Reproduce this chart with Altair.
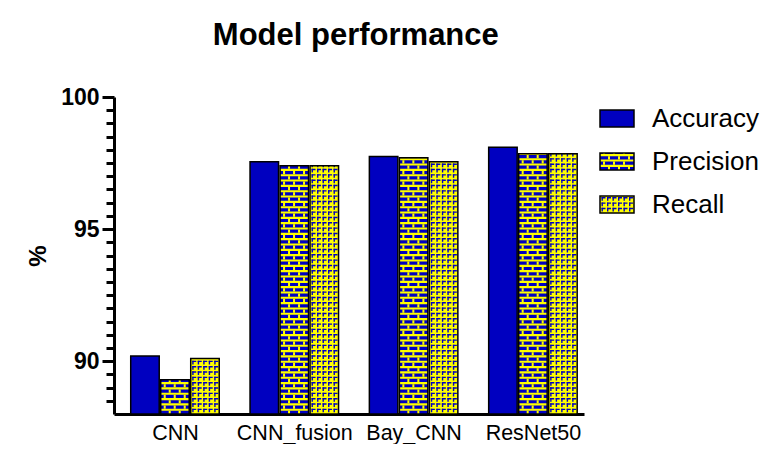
import json
import altair as alt
import pandas as pd

# ---------------- data ----------------
models = ["CNN", "CNN_fusion", "Bay_CNN", "ResNet50"]
metrics = ["Accuracy", "Precision", "Recall"]
accuracy = [90.2, 97.55, 97.75, 98.1]
precision = [89.3, 97.4, 97.7, 97.85]
recall = [90.1, 97.4, 97.55, 97.85]
y_min, y_max = 88, 100
y_tick_values = [88.5 + 0.5 * k for k in range(24)]  # minor every 0.5, labelled every 5

# ---------------- style ----------------
BLUE = "#0000C0"
YELLOW = "#FFFF00"
FONT = "Liberation Sans"

series = {"Accuracy": accuracy, "Precision": precision, "Recall": recall}
df = pd.DataFrame([
    {"model": mod, "g": g, "metric": met, "m": m, "value": series[met][g]}
    for g, mod in enumerate(models) for m, met in enumerate(metrics)
])
legend_df = pd.DataFrame({"metric": metrics, "i": list(range(len(metrics)))})

W, H = 470, 317
X_DOM = [-0.511, 3.428]
PXU = (X_DOM[1] - X_DOM[0]) / W
BAR_PX = 28.5
STEP_PX = 30.0

LW, LH = 165, 129
SYM_PX = 34.0
LX_DOM = [0, LW / SYM_PX]
LPXU = (LX_DOM[1] - LX_DOM[0]) / LW

P = 5.33  # pattern row period in px

fill_scale = alt.Scale(domain=metrics, range=[BLUE, YELLOW, YELLOW])


def pattern_layers(base, xs, ys, pxu, width_px, xa, ya):
    def X(f):
        return alt.X(f"{f}:Q", scale=xs, axis=xa)

    def Y(f):
        return alt.Y(f"{f}:Q", scale=ys, axis=ya)

    layers = []
    prec = base.transform_filter("datum.metric === 'Precision'")
    rec = base.transform_filter("datum.metric === 'Recall'")
    # brick rows (blue bands)
    layers.append(prec.mark_rule(color=BLUE, strokeWidth=width_px, strokeDash=[3.2, P - 3.2]).encode(
        x=X("xc"), y=Y("y_lo"), y2="y_hi:Q"))
    # vertical mortar, staggered rows
    cols_a = [c + 0.0 for c in range(9, int(width_px), 10) if c < width_px - 2]
    cols_b = [c + 0.0 for c in range(4, int(width_px), 10) if c < width_px - 2]
    for cols, off in ((cols_a, 0), (cols_b, P)):
        layers.append(
            prec.transform_calculate(col=json.dumps(cols))
            .transform_flatten(["col"])
            .transform_calculate(xm=f"datum.xl + datum.col * {pxu}")
            .mark_rule(color=YELLOW, strokeWidth=2, strokeDash=[3.2, 2 * P - 3.2], strokeDashOffset=off)
            .encode(x=X("xm"), y=Y("y_lo"), y2="y_hi:Q")
        )
    # recall "Γ" marks
    lefts = []
    k = 0
    while 1.5 + k * 5.5 + 4 <= width_px - 0.5:
        lefts.append(1.5 + k * 5.5)
        k += 1
    rc = rec.transform_calculate(col=json.dumps(lefts)).transform_flatten(["col"])
    layers.append(
        rc.transform_calculate(xm=f"datum.xl + (datum.col + 2) * {pxu}")
        .mark_rule(color=BLUE, strokeWidth=4, strokeDash=[1.4, P - 1.4], strokeDashOffset=1.4)
        .encode(x=X("xm"), y=Y("y_lo"), y2="y_hi:Q")
    )
    layers.append(
        rc.transform_calculate(xm=f"datum.xl + (datum.col + 0.7) * {pxu}")
        .mark_rule(color=BLUE, strokeWidth=1.4, strokeDash=[3.7, P - 3.7], strokeDashOffset=3.7)
        .encode(x=X("xm"), y=Y("y_lo"), y2="y_hi:Q")
    )
    # outline
    layers.append(
        base.mark_bar(fillOpacity=0, stroke="black", strokeWidth=1.5).encode(
            x=X("xl"), x2="xr:Q", y=Y("y_hi"), y2="y_lo:Q")
    )
    return layers


# ---------------- main panel ----------------
xs = alt.Scale(domain=X_DOM, nice=False, zero=False)
ys = alt.Scale(domain=[y_min, y_max], nice=False, zero=False)

main_base = (
    alt.Chart(df)
    .transform_calculate(xc=f"datum.g + (datum.m - 1) * {STEP_PX * PXU}")
    .transform_calculate(xl=f"datum.xc - {BAR_PX / 2 * PXU}")
    .transform_calculate(xr=f"datum.xc + {BAR_PX / 2 * PXU}")
    .transform_calculate(y_lo=f"{y_min}")
    .transform_calculate(y_hi="datum.value")
)

x_axis = alt.Axis(
    values=list(range(len(models))),
    labelExpr=f"{json.dumps(models)}[datum.value]",
    ticks=False, grid=False, title=None,
    labelFont=FONT, labelFontSize=21.5, labelColor="black", labelPadding=8,
    domainColor="black", domainWidth=3,
)
y_axis = alt.Axis(
    values=y_tick_values,
    labelExpr="datum.value % 5 === 0 ? format(datum.value, 'd') : ''",
    tickSize={"condition": {"test": "datum.value % 5 === 0", "value": 12}, "value": 8},
    tickWidth=3, tickColor="black", grid=False,
    labelFont=FONT, labelFontSize=23, labelFontWeight="bold", labelColor="black", labelPadding=3,
    domainColor="black", domainWidth=3,
    title="%", titleFont=FONT, titleFontSize=24, titleFontWeight="bold", titleColor="black",
    titlePadding=10,
)

bars = main_base.mark_bar().encode(
    x=alt.X("xl:Q", scale=xs, axis=x_axis),
    x2="xr:Q",
    y=alt.Y("y_hi:Q", scale=ys, axis=y_axis),
    y2="y_lo:Q",
    fill=alt.Fill("metric:N", scale=fill_scale, legend=None),
)

main = alt.layer(bars, *pattern_layers(main_base, xs, ys, PXU, BAR_PX, x_axis, y_axis)).properties(width=W, height=H)

# ---------------- legend panel ----------------
lxs = alt.Scale(domain=LX_DOM, nice=False, zero=False)
lys = alt.Scale(domain=[0, len(metrics)], nice=False, zero=False, reverse=True)

leg_base = (
    alt.Chart(legend_df)
    .transform_calculate(xl="0")
    .transform_calculate(xr="1")
    .transform_calculate(xc="0.5")
    .transform_calculate(y_lo="datum.i + 0.7")
    .transform_calculate(y_hi="datum.i + 0.3")
    .transform_calculate(yc="datum.i + 0.5")
)
leg_sym = leg_base.mark_bar().encode(
    x=alt.X("xl:Q", scale=lxs, axis=None),
    x2="xr:Q",
    y=alt.Y("y_hi:Q", scale=lys, axis=None),
    y2="y_lo:Q",
    fill=alt.Fill("metric:N", scale=fill_scale, legend=None),
)
leg_text = leg_base.mark_text(align="left", baseline="middle", dx=18, font=FONT, fontSize=26, color="black").encode(
    x=alt.X("xr:Q", scale=lxs, axis=None),
    y=alt.Y("yc:Q", scale=lys, axis=None),
    text="metric:N",
)
legend = alt.layer(leg_sym, *pattern_layers(leg_base, lxs, lys, LPXU, SYM_PX, None, None), leg_text).properties(width=LW, height=LH)

chart = (
    alt.hconcat(main, legend, spacing=15)
    .properties(
        title=alt.TitleParams("Model performance", font=FONT, fontSize=31, fontWeight="bold",
                              color="black", anchor="middle", offset=34, dx=-40),
        padding={"left": 18, "top": 12, "right": 0, "bottom": 0},
    )
    .configure_view(stroke=None)
)

chart.save("out.html", embed_options={"renderer": "svg", "actions": False})
